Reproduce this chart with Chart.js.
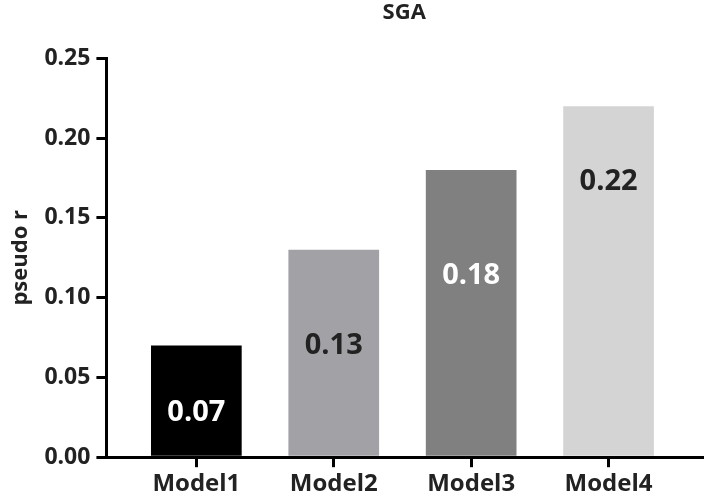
<!DOCTYPE html>
<html>
<head>
<meta charset="utf-8">
<script src="https://cdn.jsdelivr.net/npm/chart.js@4"></script>
<style>
  html, body { margin: 0; padding: 0; background: #fff; }
  #wrap { width: 706px; height: 502px; }
</style>
</head>
<body>
<div id="wrap"><canvas id="chart"></canvas></div>
<script>
// данные
const models = ['Model1', 'Model2', 'Model3', 'Model4'];
const pseudoR = [0.07, 0.13, 0.18, 0.22];
const yTicks = [0, 0.05, 0.10, 0.15, 0.20, 0.25];

// стиль
const barColors = ['#000000', '#a2a2a6', '#808080', '#d4d4d4'];
const labelColors = ['#ffffff', '#222222', '#ffffff', '#222222'];
const labelOffsets = [67, 96, 106, 75]; // px ниже верха столбца
const FONT = "'Open Sans', sans-serif";

// подписи значений внутри столбцов
const valueLabels = {
  id: 'valueLabels',
  afterDatasetsDraw(chart) {
    const ctx = chart.ctx;
    const meta = chart.getDatasetMeta(0);
    ctx.save();
    ctx.font = 'bold 29px ' + FONT;
    ctx.textAlign = 'center';
    ctx.textBaseline = 'middle';
    meta.data.forEach((bar, i) => {
      ctx.fillStyle = labelColors[i];
      ctx.fillText(pseudoR[i].toFixed(2), bar.x, bar.y + labelOffsets[i]);
    });
    ctx.restore();
  }
};

new Chart(document.getElementById('chart'), {
  type: 'bar',
  data: {
    datasets: [{
      data: models.map((m, i) => ({ x: i + 1, y: pseudoR[i] })),
      backgroundColor: barColors,
      borderWidth: 0,
      barPercentage: 0.66,
      categoryPercentage: 1
    }]
  },
  options: {
    responsive: true,
    maintainAspectRatio: false,
    animation: false,
    layout: { padding: { top: 0, right: 4, left: 4, bottom: 0 } },
    plugins: {
      legend: { display: false },
      tooltip: { enabled: false },
      title: {
        display: true,
        text: 'SGA',
        fullSize: false,
        color: '#222',
        font: { family: FONT, size: 22, weight: 'bold' },
        padding: { top: 0, bottom: 32 }
      }
    },
    scales: {
      x: {
        type: 'linear',
        offset: false,
        min: 0.3455,
        max: 4.68,
        afterBuildTicks: (scale) => {
          scale.ticks = models.map((m, i) => ({ value: i + 1 }));
        },
        grid: {
          offset: false,
          drawOnChartArea: false,
          drawTicks: true,
          tickLength: 10,
          color: '#000',
          lineWidth: 3
        },
        border: { color: '#000', width: 3 },
        ticks: {
          color: '#222',
          padding: 3,
          autoSkip: false,
          maxRotation: 0,
          font: { family: FONT, size: 24, weight: 'bold' },
          callback: (v) => models[v - 1]
        }
      },
      y: {
        min: 0,
        max: 0.25,
        afterBuildTicks: (scale) => {
          scale.ticks = yTicks.map(v => ({ value: v }));
        },
        grid: {
          drawOnChartArea: false,
          drawTicks: true,
          tickLength: 10,
          color: '#000',
          lineWidth: 3
        },
        border: { color: '#000', width: 3 },
        ticks: {
          color: '#222',
          padding: 6,
          font: { family: FONT, size: 23, weight: 'bold' },
          callback: (v) => v.toFixed(2)
        },
        title: {
          display: true,
          text: 'pseudo r',
          color: '#222',
          padding: 4,
          font: { family: FONT, size: 22, weight: 'bold' }
        }
      }
    }
  },
  plugins: [valueLabels]
});
</script>
</body>
</html>
